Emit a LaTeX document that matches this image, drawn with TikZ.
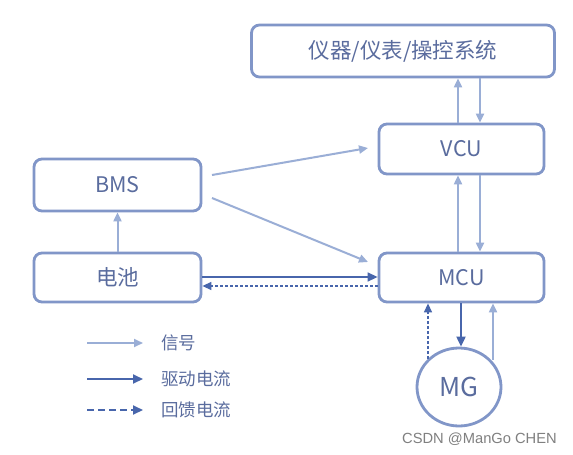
\documentclass[tikz,border=0pt]{standalone}
\usepackage{fontspec}
\setmainfont{Noto Sans CJK SC}
\newfontfamily\wmfont{Liberation Sans}
\usetikzlibrary{arrows.meta,shapes.geometric}
\definecolor{boxc}{HTML}{8196C8}
\definecolor{txtc}{HTML}{5A6C9E}
\definecolor{sig}{HTML}{9AAED6}
\definecolor{drv}{HTML}{4866AC}
\begin{document}
\begin{tikzpicture}[x=1pt,y=-1pt,
  blk/.style={draw=boxc, line width=2.8pt, rounded corners=8pt, fill=white, text=txtc,
    font=\fontsize{21.5}{24}\selectfont, inner sep=0pt},
  sigarr/.style={draw=sig, line width=2pt, -{Triangle[length=9pt,width=8pt]}},
  drvarr/.style={draw=drv, line width=2pt, -{Triangle[length=10pt,width=9pt]}},
  fbarr/.style={draw=drv, line width=1.4pt, dash pattern=on 3pt off 2pt, -{Triangle[length=9pt,width=8pt]}},
  fbleg/.style={draw=drv, line width=2pt, dash pattern=on 7pt off 4pt, -{Triangle[length=10pt,width=9pt]}},
  legtxt/.style={text=txtc, font=\fontsize{17.5}{20}\selectfont, anchor=west, inner sep=0pt}
]
\useasboundingbox (0,0) rectangle (573,455);
\fill[white] (0,0) rectangle (573,455);

\node[blk, minimum width=303pt, minimum height=52pt] (top) at (403,51) {仪器/仪表/操控系统};
\node[blk, minimum width=165pt, minimum height=50pt] (vcu) at (461.5,149) {VCU};
\node[blk, minimum width=167pt, minimum height=52pt] (bms) at (117.5,185) {BMS};
\node[blk, minimum width=167pt, minimum height=49pt] (bat) at (117.5,277.5) {电池};
\node[blk, minimum width=165pt, minimum height=49pt] (mcu) at (461.5,277.5) {MCU};
\node[blk, ellipse, minimum width=84pt, minimum height=78pt, font=\fontsize{26}{28}\selectfont] (mg) at (459,387) {MG};

\coordinate (xa) at (458,0);
\coordinate (xb) at (480,0);
\coordinate (xc) at (428,0);
\coordinate (xd) at (461,0);
\coordinate (xe) at (493,0);
\coordinate (ya) at (0,277);
\coordinate (yb) at (0,286);

% top <-> VCU
\draw[sigarr] (vcu.north -| xa) -- (top.south -| xa);
\draw[sigarr] (top.south -| xb) -- (vcu.north -| xb);
% VCU <-> MCU
\draw[sigarr] (mcu.north -| xa) -- (vcu.south -| xa);
\draw[sigarr] (vcu.south -| xb) -- (mcu.north -| xb);
% battery -> BMS
\draw[sigarr] (bat.north) -- (bms.south);
% BMS -> VCU / MCU
\coordinate (b1) at (212,175);
\coordinate (v1) at (368,148);
\coordinate (b2) at (212,198);
\coordinate (m1) at (368,262);
\draw[sigarr] (b1) -- (v1);
\draw[sigarr] (b2) -- (m1);
% battery <-> MCU
\draw[drvarr, line width=1.4pt] (bat.east |- ya) -- (mcu.west |- ya);
\draw[fbarr] (mcu.west |- yb) -- (bat.east |- yb);
% MCU <-> MG
\coordinate (mgl) at (428,359);
\coordinate (mgr) at (493,360);
\draw[fbarr] (mgl) -- (mcu.south -| xc);
\draw[drvarr] (mcu.south -| xd) -- (mg.north -| xd);
\draw[sigarr] (mgr) -- (mcu.south -| xe);

% legend
\coordinate (l1a) at (87,343); \coordinate (l1b) at (143,343);
\coordinate (l2a) at (87,379); \coordinate (l2b) at (143,379);
\coordinate (l3a) at (87,410); \coordinate (l3b) at (143,410);
\draw[sigarr] (l1a) -- (l1b);
\draw[drvarr] (l2a) -- (l2b);
\draw[fbleg] (l3a) -- (l3b);
\node[legtxt] (t1) at (161,343) {信号};
\node[legtxt] (t2) at (161,379) {驱动电流};
\node[legtxt] (t3) at (161,410) {回馈电流};

\node[anchor=east, inner sep=0pt, text=black!50, font=\wmfont\fontsize{14.7}{16}\selectfont] (wm) at (557,439) {CSDN @ManGo CHEN};
\end{tikzpicture}
\end{document}
